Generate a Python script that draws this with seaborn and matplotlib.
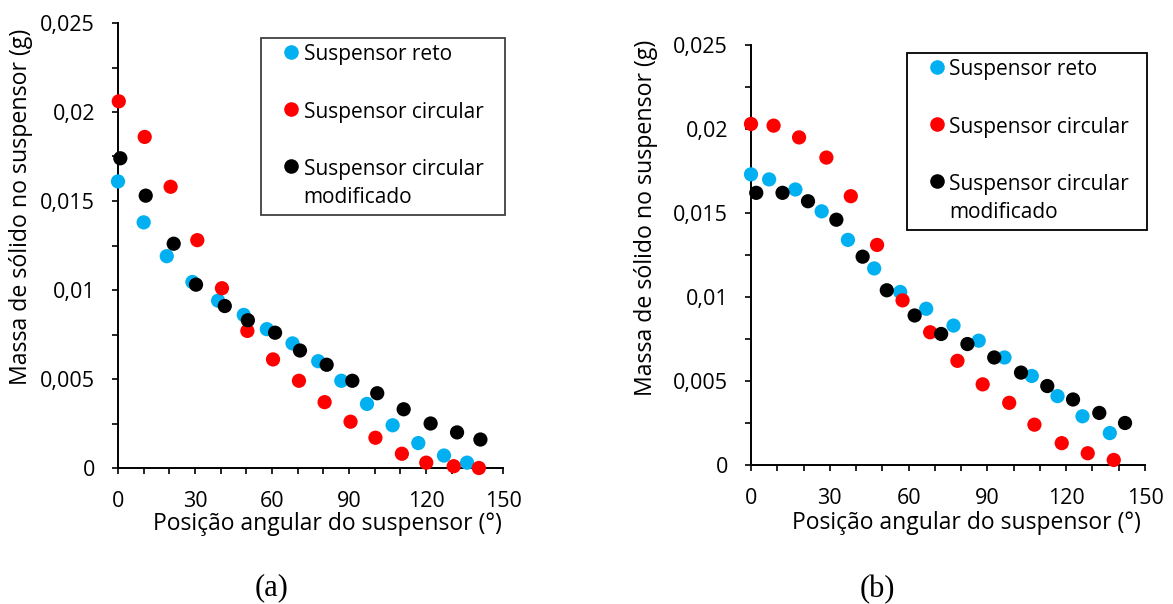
import numpy as np
import pandas as pd
import matplotlib
matplotlib.use("Agg")
import matplotlib.pyplot as plt
from matplotlib.lines import Line2D
from matplotlib.legend_handler import HandlerLine2D
import seaborn as sns

# ---------------- data ----------------
series_names = ["Suspensor reto", "Suspensor circular", "Suspensor circular\nmodificado"]

# panel (a)
a_reto_x = [0, 10, 19, 29, 39, 49, 58, 68, 78, 87, 97, 107, 117, 127, 136]
a_reto_y = [0.0161, 0.0138, 0.0119, 0.01045, 0.0094, 0.0086, 0.0078, 0.0070, 0.0060, 0.0049, 0.0036, 0.0024, 0.0014, 0.0007, 0.0003]
a_circ_x = [0.3, 10.4, 20.5, 30.9, 40.5, 50.4, 60.4, 70.5, 80.5, 90.6, 100.3, 110.6, 120.1, 130.8, 140.6]
a_circ_y = [0.0206, 0.0186, 0.0158, 0.0128, 0.0101, 0.0077, 0.0061, 0.0049, 0.0037, 0.0026, 0.0017, 0.0008, 0.0003, 0.0001, 0.0000]
a_mod_x = [0.9, 10.8, 21.7, 30.4, 41.6, 50.6, 61.2, 70.9, 81.3, 91.3, 101.0, 111.3, 121.8, 132.1, 141.2]
a_mod_y = [0.0174, 0.0153, 0.0126, 0.0103, 0.0091, 0.0083, 0.0076, 0.0066, 0.0058, 0.0049, 0.0042, 0.0033, 0.0025, 0.0020, 0.0016]

# panel (b)
b_reto_x = [0, 6.9, 16.9, 26.9, 36.9, 46.9, 56.8, 66.7, 77.1, 86.7, 96.5, 106.9, 116.7, 126.2, 136.6]
b_reto_y = [0.0173, 0.0170, 0.0164, 0.0151, 0.0134, 0.0117, 0.0103, 0.0093, 0.0083, 0.0074, 0.0064, 0.0053, 0.0041, 0.0029, 0.0019]
b_circ_x = [0, 8.6, 18.3, 28.7, 38.0, 48.0, 57.7, 68.2, 78.6, 88.2, 98.3, 107.9, 118.3, 128.2, 138.1]
b_circ_y = [0.0203, 0.0202, 0.0195, 0.0183, 0.0160, 0.0131, 0.0098, 0.0079, 0.0062, 0.0048, 0.0037, 0.0024, 0.0013, 0.0007, 0.0003]
b_mod_x = [2.0, 12.0, 21.7, 32.5, 42.5, 51.7, 62.3, 72.4, 82.4, 92.6, 102.8, 112.8, 122.6, 132.6, 142.4]
b_mod_y = [0.0162, 0.0162, 0.0157, 0.0146, 0.0124, 0.0104, 0.0089, 0.0078, 0.0072, 0.0064, 0.0055, 0.0047, 0.0039, 0.0031, 0.0025]

x_ticks = [0, 30, 60, 90, 120, 150]
x_tick_labels = ["0", "30", "60", "90", "120", "150"]
y_ticks = [0, 0.005, 0.01, 0.015, 0.02, 0.025]
y_tick_labels = ["0", "0,005", "0,01", "0,015", "0,02", "0,025"]

x_label = "Posição angular do suspensor (°)"
y_label = "Massa de sólido no suspensor (g)"
panel_labels = ["(a)", "(b)"]
colors = ["#00B0F0", "#FF0000", "#000000"]


def make_df(xs, ys):
    rows = []
    for name, x, y in zip(series_names, xs, ys):
        for xi, yi in zip(x, y):
            rows.append({"ang": xi, "massa": yi, "serie": name})
    return pd.DataFrame(rows)


df_a = make_df([a_reto_x, a_circ_x, a_mod_x], [a_reto_y, a_circ_y, a_mod_y])
df_b = make_df([b_reto_x, b_circ_x, b_mod_x], [b_reto_y, b_circ_y, b_mod_y])

# ---------------- style ----------------
sns.set_theme(style="white")
plt.rcParams["font.family"] = ["Open Sans", "DejaVu Sans"]
plt.rcParams["text.color"] = "black"
plt.rcParams["axes.labelcolor"] = "black"

W, H = 1173, 604
fig = plt.figure(figsize=(W / 100, H / 100), dpi=100)
fig.patch.set_facecolor("white")


def px_axes(l, t, r, b):
    return fig.add_axes([l / W, 1 - b / H, (r - l) / W, (b - t) / H])


ax_a = px_axes(118, 23, 503, 468)
ax_b = px_axes(751, 45, 1145, 465)

TFS = 15.5
LFS = 15

configs = [
    (ax_a, df_a, (-0.221, 0.587), (0.543, -0.099), (261, 38, 505, 211), (272, 588), "#404040"),
    (ax_b, df_b, (-0.236, 0.588), (0.548, -0.110), (907, 53, 1147, 230), (877, 590), "black"),
]

for i, (ax, df, ylc, xlc, lbox, plab, fcol) in enumerate(configs):
    sns.scatterplot(data=df, x="ang", y="massa", hue="serie", hue_order=series_names,
                    palette=colors, s=105, linewidth=0, ax=ax, legend=False, zorder=3,
                    clip_on=False)
    ax.set_xlim(0, 150)
    ax.set_ylim(0, 0.025)
    ax.set_xticks(x_ticks)
    ax.set_xticklabels(x_tick_labels)
    ax.set_yticks(y_ticks)
    ax.set_yticklabels(y_tick_labels)
    ax.set_xticks(np.arange(0, 151, 10), minor=True)
    ax.set_yticks(np.arange(0, 0.0251, 0.0025), minor=True)
    for s in ["top", "right"]:
        ax.spines[s].set_visible(False)
    for s in ["left", "bottom"]:
        ax.spines[s].set_color("black")
        ax.spines[s].set_linewidth(1.4)
    ax.tick_params(which="both", direction="out", length=4.5, width=1.2, color="black",
                   labelsize=TFS, labelcolor="black", bottom=True, left=True)
    ax.tick_params(axis="x", which="major", pad=12)
    ax.tick_params(axis="y", which="major", pad=12)
    ax.set_xlabel(x_label, fontsize=16.5)
    ax.set_ylabel(y_label, fontsize=16.7)
    ax.xaxis.set_label_coords(*xlc)
    ax.yaxis.set_label_coords(*ylc)
    ax.set_facecolor("white")

    handles = [Line2D([], [], marker="o", linestyle="", markersize=10.5,
                      markerfacecolor=c, markeredgewidth=0) for c in colors]
    l, t, r, b = lbox
    leg = ax.legend(handles, series_names, loc="upper left", mode="expand",
                    bbox_to_anchor=(l / W, 1 - b / H, (r - l) / W, (b - t) / H),
                    bbox_transform=fig.transFigure, fontsize=LFS,
                    frameon=True, fancybox=False, edgecolor=fcol,
                    labelspacing=1.75, handlelength=1.54, handletextpad=0.2,
                    borderpad=0.3, borderaxespad=0, framealpha=1,
                    handler_map={Line2D: HandlerLine2D(xpad=0.77)})
    leg.get_frame().set_linewidth(1.3)
    for tx in leg.get_texts():
        tx.set_linespacing(1.45)
    # align marker with first line of multi-line label
    for col in leg._legend_handle_box.get_children():
        for item in col.get_children():
            item.align = "top"

    fig.text(plab[0] / W, 1 - plab[1] / H, panel_labels[i], ha="center", va="center",
             fontsize=22, family="Liberation Serif")

fig.savefig("out.png", dpi=100, facecolor="white")
